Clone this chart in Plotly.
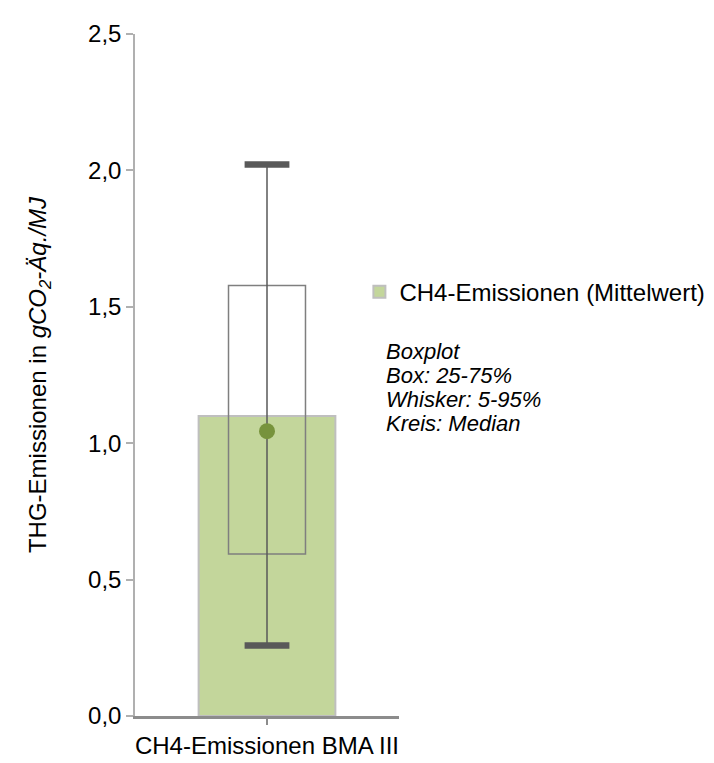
import plotly.graph_objects as go

categories = ["CH4-Emissionen BMA III"]
mean_values = [1.10]
q25 = [0.594]
q75 = [1.578]
p05 = [0.258]
p95 = [2.022]
median = [1.044]
legend_name = "CH4-Emissionen (Mittelwert)"
note_lines = ["Boxplot", "Box: 25-75%", "Whisker: 5-95%", "Kreis: Median"]

FONT = "Liberation Sans, Arial, sans-serif"

fig = go.Figure()

fig.add_trace(go.Bar(
    x=categories, y=mean_values, width=0.518, name=legend_name,
    marker=dict(color="#c3d69b", line=dict(color="#bfbfbf", width=2)),
    showlegend=True,
))

fig.add_trace(go.Bar(
    x=categories, y=[b - a for a, b in zip(q25, q75)], base=q25, width=0.2916,
    marker=dict(color="rgba(0,0,0,0)", line=dict(color="#7f7f7f", width=1.5)),
    showlegend=False, hoverinfo="skip",
))

for i, c in enumerate(categories):
    fig.add_trace(go.Scatter(
        x=[c, c], y=[p05[i], p95[i]], mode="lines",
        line=dict(color="#595959", width=1.5), showlegend=False, hoverinfo="skip",
    ))

fig.add_trace(go.Scatter(
    x=categories * 2, y=p05 + p95, mode="markers",
    marker=dict(symbol="line-ew", size=32, line=dict(color="#595959", width=6.5)),
    showlegend=False, hoverinfo="skip",
))

fig.add_trace(go.Scatter(
    x=categories, y=median, mode="markers",
    marker=dict(symbol="circle", size=16, color="#77933c"),
    showlegend=False,
))

# note lines, one annotation per line for tight line spacing
plot_top, plot_bottom = 19, 722
centers_px = [346, 371, 396, 421]
for t, cy in zip(note_lines, centers_px):
    fig.add_annotation(
        xref="paper", yref="paper", x=0.947,
        y=(plot_bottom - cy) / (plot_bottom - plot_top),
        xanchor="left", yanchor="middle",
        text=f"<i>{t}</i>", align="left", showarrow=False, borderpad=0,
        font=dict(family=FONT, size=22, color="black"),
    )

fig.update_layout(
    width=714, height=763,
    margin=dict(l=127, r=304, t=19, b=41),
    barmode="overlay",
    separators=",.",
    plot_bgcolor="white", paper_bgcolor="white",
    font=dict(family=FONT, size=24, color="black"),
    legend=dict(x=0.85, y=0.6216, xanchor="left", yanchor="middle",
                font=dict(family=FONT, size=24, color="black"),
                bgcolor="rgba(0,0,0,0)"),
    xaxis=dict(showline=True, linecolor="#8c8c8c", linewidth=2.5, ticks="outside",
               ticklen=6, tickcolor="#8c8c8c", tickwidth=2, showgrid=False,
               range=[-0.5, 0.5], tickfont=dict(size=24)),
    yaxis=dict(range=[0, 2.5], dtick=0.5, tickformat=".1f", showline=True,
               linecolor="#b0b0b0", linewidth=1.5, ticks="outside", ticklen=7,
               tickcolor="#b0b0b0", tickwidth=1.5, showgrid=False, zeroline=False,
               tickfont=dict(size=24),
               title=dict(text="THG-Emissionen in <i>gCO<sub>2</sub>-Äq./MJ</i>",
                          font=dict(size=24), standoff=35)),
)

fig.write_html("out.html")
